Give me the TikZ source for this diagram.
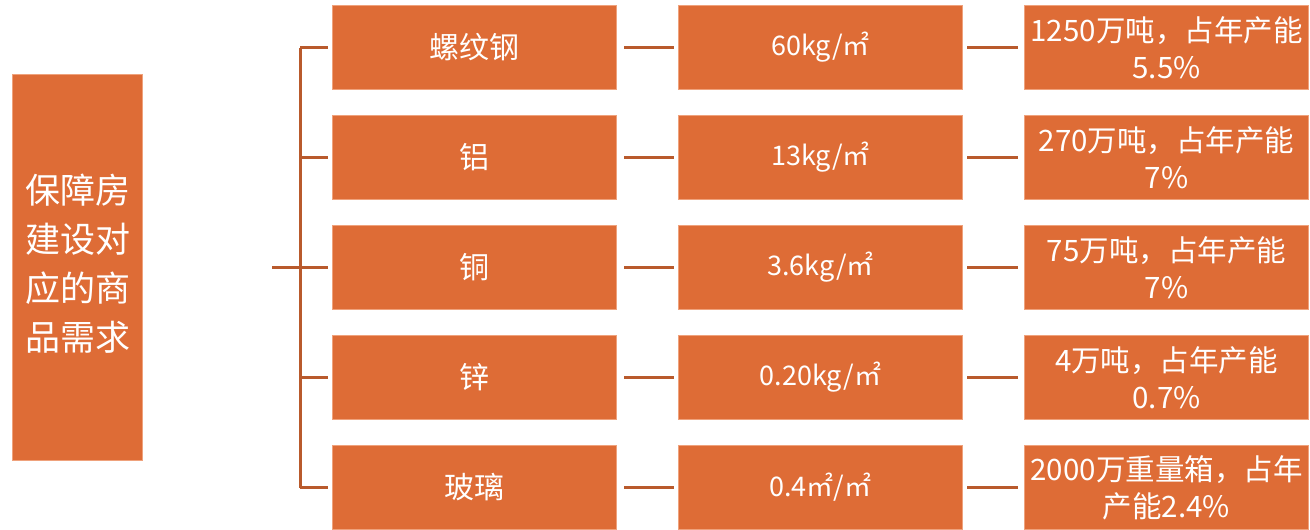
\documentclass[tikz,border=0pt]{standalone}
\usepackage{fontspec}
\setmainfont{Noto Sans CJK SC}
\definecolor{boxfill}{HTML}{DE6C36}
\definecolor{boxedge}{HTML}{EFA27C}
\definecolor{linec}{HTML}{B95A2C}
\begin{document}
\begin{tikzpicture}[x=1pt,y=-1pt,
  box/.style={draw=boxedge, line width=1pt, fill=boxfill, text=white,
    minimum width=284pt, minimum height=84pt, inner sep=0pt, align=center,
    anchor=north west, font=\fontsize{27}{37}\selectfont},
  big/.style={font=\fontsize{30}{37}\selectfont},
  note/.style={font=\fontsize{29.5}{37}\selectfont},
  link/.style={draw=linec, line width=3pt}]
\useasboundingbox (0,0) rectangle (1310,530);

\node[box, minimum width=130pt, minimum height=386pt, font=\fontsize{35}{49}\selectfont] (root) at (12,74)
  {保障房\\建设对\\应的商\\品需求\vspace*{8pt}};

\node[box, big] (a1) at (332,5)   {螺纹钢};
\node[box, big] (a2) at (332,115) {铝};
\node[box, big] (a3) at (332,225) {铜};
\node[box, big] (a4) at (332,335) {锌};
\node[box, big] (a5) at (332,445) {玻璃};

\node[box] (b1) at (678,5)   {60kg/㎡};
\node[box] (b2) at (678,115) {13kg/㎡};
\node[box] (b3) at (678,225) {3.6kg/㎡};
\node[box] (b4) at (678,335) {0.20kg/㎡};
\node[box] (b5) at (678,445) {0.4㎡/㎡};

\node[box, note] (c1) at (1024,5)   {1250万吨，占年产能\\5.5\%};
\node[box, note] (c2) at (1024,115) {270万吨，占年产能\\7\%};
\node[box, note] (c3) at (1024,225) {75万吨，占年产能\\7\%};
\node[box, note] (c4) at (1024,335) {4万吨，占年产能\\0.7\%};
\node[box, note] (c5) at (1024,445) {2000万重量箱，占年\\产能2.4\%};

\coordinate (hub) at (272,267);
\coordinate (spine) at (300,267);
\draw[link] (hub) -- (spine);
\draw[link] (spine |- a1.west) -- (spine |- a5.west);
\foreach \i in {1,...,5}{
  \draw[link, shorten >=4pt] (spine |- a\i.west) -- (a\i.west);
  \draw[link, shorten <=7pt, shorten >=4pt] (a\i.east) -- (b\i.west);
  \draw[link, shorten <=4pt, shorten >=6pt] (b\i.east) -- (c\i.west);
}
\end{tikzpicture}
\end{document}
